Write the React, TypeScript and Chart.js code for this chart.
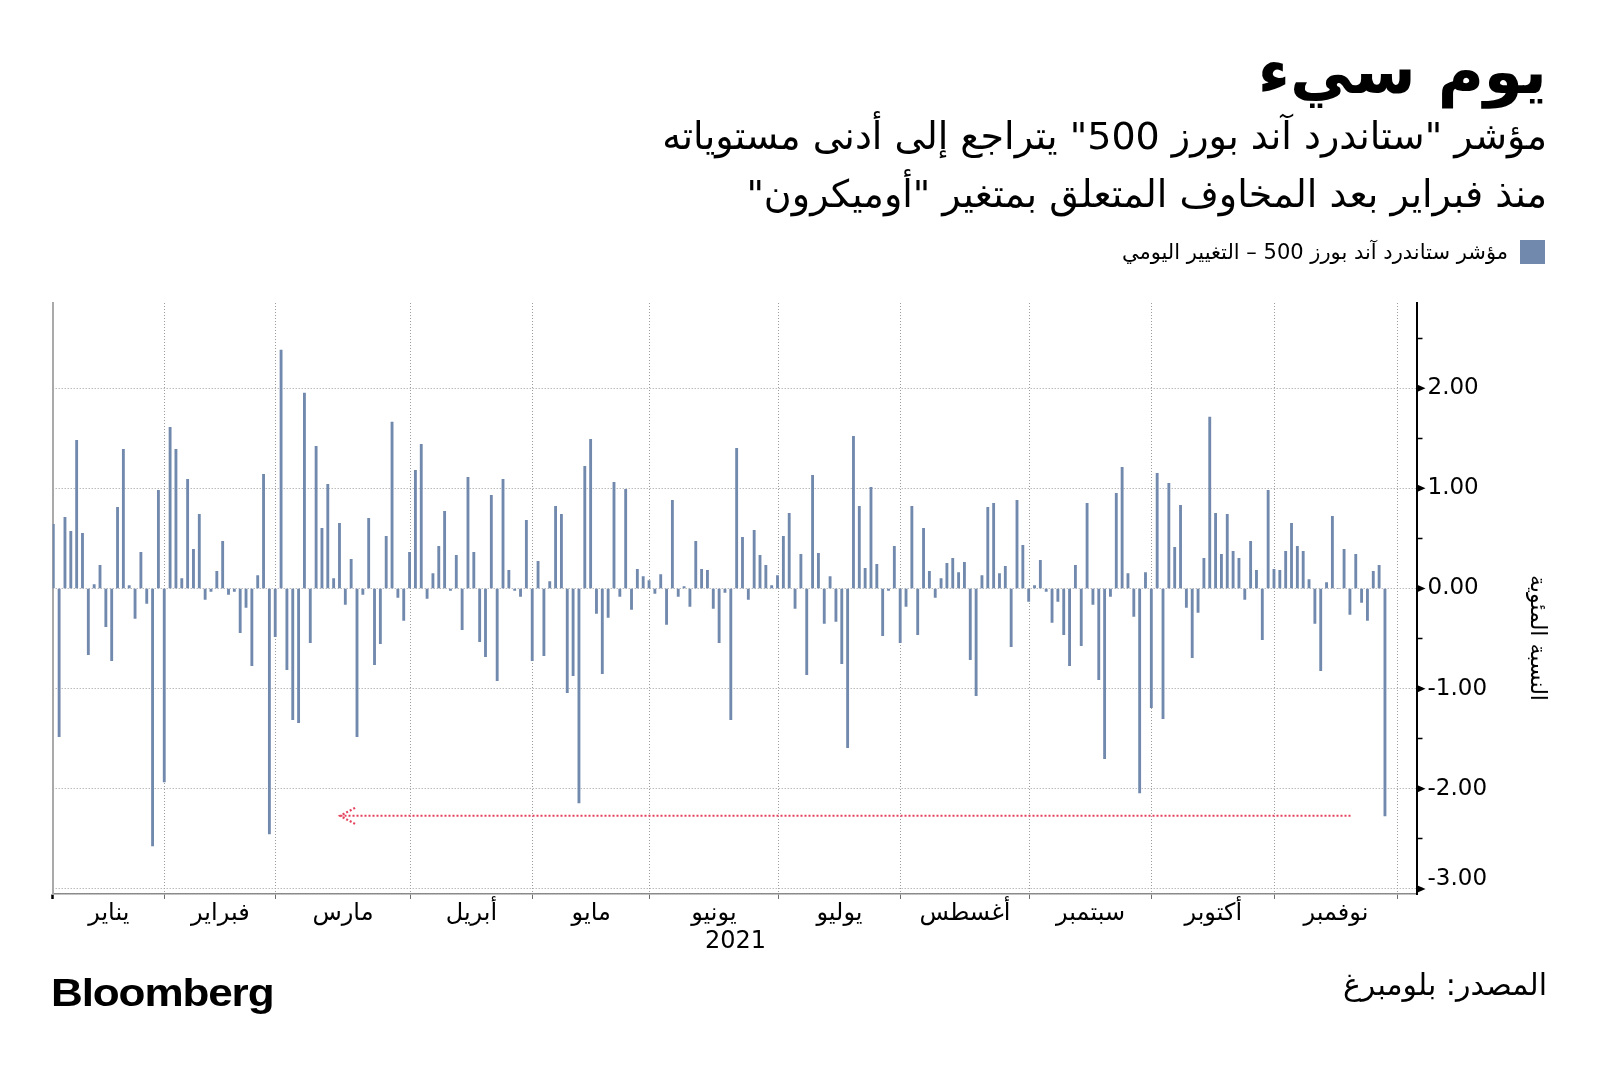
import React, { useEffect, useRef } from 'react';
import { Chart, registerables } from 'chart.js';

Chart.register(...registerables);

// ---------- DATA ----------
// Daily % change of the S&P 500, one value per trading session (Dec 31, 2020 → Nov 26, 2021)
const janChange = [0.64, -1.48, 0.71, 0.57, 1.48, 0.55, -0.66, 0.04, 0.23, -0.38, -0.72, 0.81, 1.39, 0.03, -0.30, 0.36, -0.15, -2.57, 0.98, -1.93];
const febChange = [1.61, 1.39, 0.10, 1.09, 0.39, 0.74, -0.11, -0.03, 0.17, 0.47, -0.06, -0.03, -0.44, -0.19, -0.77, 0.13, 1.14, -2.45, -0.48];
const marChange = [2.38, -0.81, -1.31, -1.34, 1.95, -0.54, 1.42, 0.60, 1.04, 0.10, 0.65, -0.16, 0.29, -1.48, -0.06, 0.70, -0.76, -0.55, 0.52, 1.66, -0.09, -0.32, 0.36];
const aprChange = [1.18, 1.44, -0.10, 0.15, 0.42, 0.77, -0.02, 0.33, -0.41, 1.11, 0.36, -0.53, -0.68, 0.93, -0.92, 1.09, 0.18, -0.02, -0.08, 0.68, -0.72];
const mayChange = [0.27, -0.67, 0.07, 0.82, 0.74, -1.04, -0.87, -2.14, 1.22, 1.49, -0.25, -0.85, -0.29, 1.06, -0.08, 0.99, -0.21, 0.19, 0.12, 0.08];
const junChange = [-0.05, 0.14, -0.36, 0.88, -0.08, 0.02, -0.18, 0.47, 0.19, 0.18, -0.20, -0.54, -0.04, -1.31, 1.40, 0.51, -0.11, 0.58, 0.33, 0.23, 0.03, 0.13];
const julChange = [0.52, 0.75, -0.20, 0.34, -0.86, 1.13, 0.35, -0.35, 0.12, -0.33, -0.75, -1.59, 1.52, 0.82, 0.20, 1.01, 0.24, -0.47, -0.02, 0.42, -0.54];
const augChange = [-0.18, 0.82, -0.46, 0.60, 0.17, -0.09, 0.10, 0.25, 0.30, 0.16, 0.26, -0.71, -1.07, 0.13, 0.81, 0.85, 0.15, 0.22, -0.58, 0.88, 0.43, -0.13];
const sepChange = [0.03, 0.28, -0.03, -0.34, -0.13, -0.46, -0.77, 0.23, -0.57, 0.85, -0.16, -0.91, -1.70, -0.08, 0.95, 1.21, 0.15, -0.28, -2.04, 0.16, -1.19];
const octChange = [1.15, -1.30, 1.05, 0.41, 0.83, -0.19, -0.69, -0.24, 0.30, 1.71, 0.75, 0.34, 0.74, 0.37, 0.30, -0.11, 0.47, 0.18, -0.51, 0.98, 0.19];
const novChange = [0.18, 0.37, 0.65, 0.42, 0.37, 0.09, -0.35, -0.82, 0.06, 0.72, 0.00, 0.39, -0.26, 0.34, -0.14, -0.32, 0.17, 0.23, -2.27];

// Month tick labels and number of trading sessions covered by each month band
const monthNames = ['يناير', 'فبراير', 'مارس', 'أبريل', 'مايو', 'يونيو', 'يوليو', 'أغسطس', 'سبتمبر', 'أكتوبر', 'نوفمبر'];
const monthSessions = [20, 19, 23, 21, 20, 22, 21, 22, 21, 21, 21];
const yearLabel = '2021';
const yearLabelSession = 116.8;

// Y axis ticks (percent)
const yTickValues = [-3, -2.5, -2, -1.5, -1, -0.5, 0, 0.5, 1, 1.5, 2, 2.5];
const yMin = -3.05;
const yMax = 2.85;
const xMin = -0.1;
const xMax = 233.4;

// Annotation arrow: level of the latest drop, pointing back to February
const arrowLevel = -2.27;
const arrowFromSession = 222.1;
const arrowToSession = 49.1;

// Texts
const titleText = 'يوم سيء';
const subtitleLines = [
  'مؤشر "ستاندرد آند بورز 500" يتراجع إلى أدنى مستوياته',
  'منذ فبراير بعد المخاوف المتعلق بمتغير "أوميكرون"',
];
const legendText = 'مؤشر ستاندرد آند بورز 500 – التغيير اليومي';
const yAxisTitle = 'النسبة المئوية';
const sourceText = 'المصدر: بلومبرغ';
const brandText = 'Bloomberg';

// ---------- STYLE ----------
const BAR_COLOR = '#7189ad';
const GRID_COLOR = '#9c9c9c';
const ARROW_COLOR = '#e5415d';
const AR_FONT = '"DejaVu Sans", "Noto Sans", sans-serif';

type XTick = { value: number; kind: 'edge' | 'bound' | 'label'; label: string | string[] };

export default function App() {
  const canvasRef = useRef<HTMLCanvasElement>(null);

  useEffect(() => {
    const canvas = canvasRef.current;
    if (!canvas) return;

    const values = [
      ...janChange, ...febChange, ...marChange, ...aprChange, ...mayChange, ...junChange,
      ...julChange, ...augChange, ...sepChange, ...octChange, ...novChange,
    ];
    const points = values.map((v, i) => ({ x: i, y: v }));

    const bounds: number[] = [];
    let cum = -1;
    monthSessions.forEach((n) => {
      cum += n;
      bounds.push(cum + 0.1);
    });
    const starts = [xMin, ...bounds.slice(0, -1)];
    const xTicks: XTick[] = [{ value: xMin, kind: 'edge', label: '' }];
    bounds.forEach((b) => xTicks.push({ value: b, kind: 'bound', label: '' }));
    monthNames.forEach((m, i) => xTicks.push({ value: (starts[i] + bounds[i]) / 2, kind: 'label', label: m }));
    xTicks.push({ value: yearLabelSession, kind: 'label', label: ['', yearLabel] });
    xTicks.sort((a, b) => a.value - b.value);

    const kindAt = (ctx: any) => (ctx && typeof ctx.index === 'number' && xTicks[ctx.index] ? xTicks[ctx.index].kind : 'bound');
    const yBottomTick = yTickValues[0];

    const arrowPlugin = {
      id: 'arrowNote',
      afterDatasetsDraw(chart: any) {
        const { ctx, scales } = chart;
        const x = scales.x;
        const y = scales.y;
        const yy = y.getPixelForValue(arrowLevel);
        const x1 = x.getPixelForValue(arrowFromSession);
        const x0 = x.getPixelForValue(arrowToSession);
        ctx.save();
        ctx.strokeStyle = ARROW_COLOR;
        ctx.lineWidth = 2;
        ctx.setLineDash([2, 2]);
        ctx.beginPath();
        ctx.moveTo(x1, yy);
        ctx.lineTo(x0 + 1, yy);
        ctx.stroke();
        ctx.lineWidth = 2.2;
        ctx.beginPath();
        ctx.moveTo(x0 + 15, yy - 8);
        ctx.lineTo(x0, yy);
        ctx.lineTo(x0 + 15, yy + 8);
        ctx.stroke();
        ctx.restore();
      },
    };

    const axisMarks = {
      id: 'axisMarks',
      afterDraw(chart: any) {
        const { ctx, chartArea } = chart;
        const y = chart.scales.y;
        ctx.save();
        ctx.fillStyle = '#000';
        yTickValues.forEach((v) => {
          if (!Number.isInteger(v)) return;
          const py = y.getPixelForValue(v);
          ctx.beginPath();
          ctx.moveTo(chartArea.right, py - 4);
          ctx.lineTo(chartArea.right + 9, py);
          ctx.lineTo(chartArea.right, py + 4);
          ctx.closePath();
          ctx.fill();
        });
        ctx.restore();
      },
    };

    const chart = new Chart(canvas, {
      type: 'bar',
      data: {
        datasets: [
          {
            data: points as any,
            backgroundColor: BAR_COLOR,
            borderWidth: 0,
            barThickness: 2.2,
          },
        ],
      },
      options: {
        animation: false,
        responsive: false,
        maintainAspectRatio: false,
        devicePixelRatio: 1,
        events: [],
        layout: { padding: { left: 52.7, top: 303, right: 108.5, bottom: 118 } },
        plugins: { legend: { display: false }, tooltip: { enabled: false }, title: { display: false } },
        scales: {
          x: {
            type: 'linear',
            position: 'bottom',
            min: xMin,
            max: xMax,
            offset: false,
            afterBuildTicks: (scale: any) => {
              scale.ticks = xTicks.map((t) => ({ value: t.value }));
            },
            afterFit: (scale: any) => {
              scale.height = 60;
            },
            ticks: {
              autoSkip: false,
              maxRotation: 0,
              minRotation: 0,
              padding: 0,
              color: '#000',
              font: { family: AR_FONT, size: 24 },
              callback: (_v: any, i: number) => xTicks[i].label,
            },
            grid: {
              offset: false,
              drawOnChartArea: true,
              drawTicks: true,
              tickLength: 5,
              lineWidth: 1,
              color: (ctx: any) => (kindAt(ctx) === 'bound' ? GRID_COLOR : 'rgba(0,0,0,0)'),
              tickColor: (ctx: any) => {
                const k = kindAt(ctx);
                return k === 'edge' ? '#000' : k === 'bound' ? '#6f6f6f' : 'rgba(0,0,0,0)';
              },
              tickWidth: (ctx: any) => (kindAt(ctx) === 'edge' ? 2.5 : 1),
            },
            border: { display: true, color: '#8a8a8a', width: 1.5, dash: [1, 2] },
          } as any,
          y: {
            type: 'linear',
            position: 'right',
            min: yMin,
            max: yMax,
            afterBuildTicks: (scale: any) => {
              scale.ticks = yTickValues.map((v) => ({ value: v }));
            },
            afterFit: (scale: any) => {
              scale.width = 75;
            },
            ticks: {
              padding: 5,
              color: '#000',
              font: (ctx: any) => ({
                family: '"DejaVu Sans", sans-serif',
                size: 23,
                lineHeight: ctx && ctx.tick && ctx.tick.value === yBottomTick ? 0.87 : 1.2,
              }),
              callback: (v: any) => {
                if (!Number.isInteger(v)) return '';
                const s = Number(v).toFixed(2);
                return v === yBottomTick ? [s, ''] : s;
              },
            },
            grid: {
              drawTicks: true,
              tickLength: 6,
              lineWidth: 1,
              color: (ctx: any) =>
                ctx && ctx.tick && Number.isInteger(ctx.tick.value) ? GRID_COLOR : 'rgba(0,0,0,0)',
              tickColor: '#000',
              tickWidth: 1.5,
            },
            border: { display: true, color: '#000', width: 2, dash: [1, 2] },
          } as any,
          yl: {
            type: 'linear',
            position: 'left',
            min: yMin,
            max: yMax,
            grid: { display: false, drawTicks: false },
            ticks: { display: false },
            afterFit: (scale: any) => {
              scale.width = 0;
            },
            border: { display: true, color: '#a9a9a9', width: 2 },
          } as any,
        },
      },
      plugins: [arrowPlugin, axisMarks],
    });

    return () => chart.destroy();
  }, []);

  const abs: React.CSSProperties = { position: 'absolute', whiteSpace: 'nowrap', margin: 0 };

  return (
    <div style={{ position: 'absolute', left: 0, top: 0, width: 1600, height: 1072, background: '#fff', overflow: 'hidden' }}>
      <canvas ref={canvasRef} width={1600} height={1072} style={{ position: 'absolute', left: 0, top: 0, width: 1600, height: 1072 }} />
      <div dir="rtl" style={{ ...abs, right: 53, top: 40, fontFamily: AR_FONT, fontWeight: 'bold', fontSize: 63, lineHeight: '64px', color: '#000' }}>
        {titleText}
      </div>
      {subtitleLines.map((line, i) => (
        <div key={i} dir="rtl" style={{ ...abs, right: 53, top: 114 + i * 58, fontFamily: AR_FONT, fontSize: 38, lineHeight: '44px', color: '#000' }}>
          {line}
        </div>
      ))}
      <div style={{ ...abs, left: 1520, top: 240, width: 25, height: 24, background: BAR_COLOR }} />
      <div dir="rtl" style={{ ...abs, right: 92, top: 238, fontFamily: AR_FONT, fontSize: 21, lineHeight: '28px', color: '#000' }}>
        {legendText}
      </div>
      <div dir="rtl" style={{ ...abs, left: 1538, top: 638, transform: 'translate(-50%, -50%) rotate(90deg)', fontFamily: AR_FONT, fontSize: 22, lineHeight: '26px', color: '#000' }}>
        {yAxisTitle}
      </div>
      <div style={{ ...abs, left: 51, top: 971, fontFamily: '"Liberation Sans", Arial, sans-serif', fontWeight: 900, fontSize: 39, lineHeight: '44px', letterSpacing: -1, color: '#000', transform: 'scaleX(1.13)', transformOrigin: 'left center' }}>
        {brandText}
      </div>
      <div dir="rtl" style={{ ...abs, right: 53, top: 966, fontFamily: AR_FONT, fontSize: 30, lineHeight: '38px', color: '#000' }}>
        {sourceText}
      </div>
    </div>
  );
}
